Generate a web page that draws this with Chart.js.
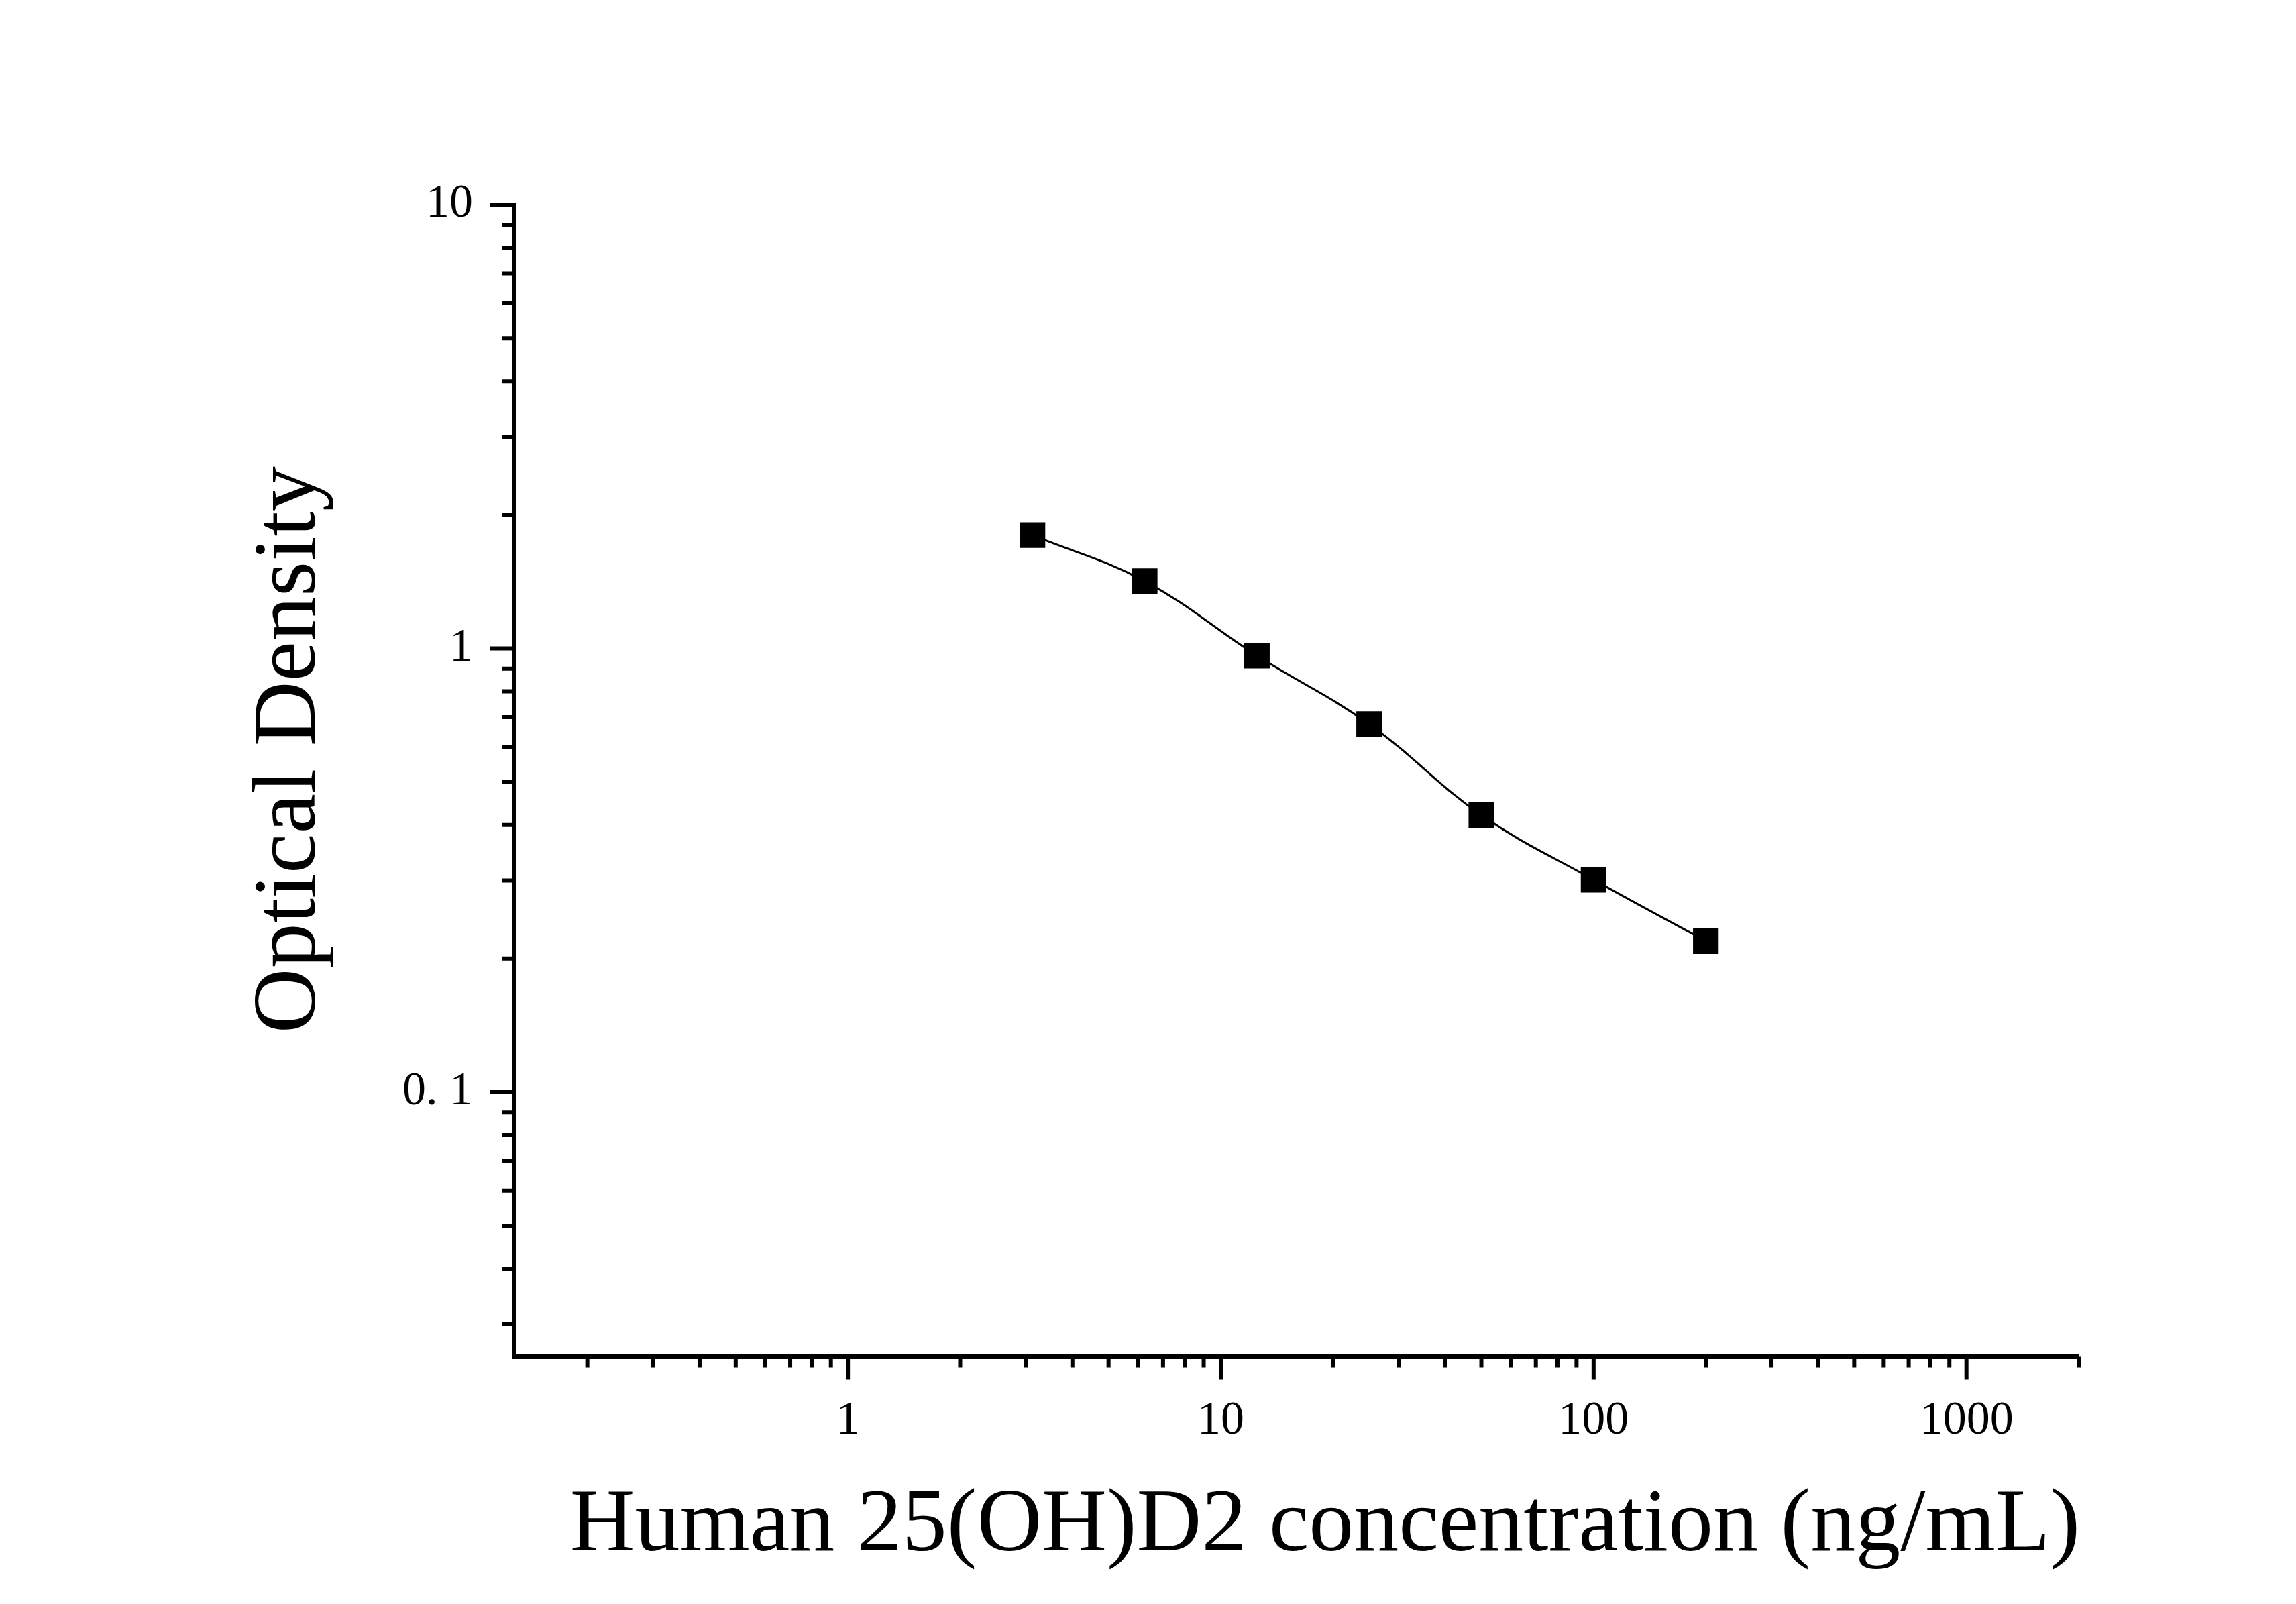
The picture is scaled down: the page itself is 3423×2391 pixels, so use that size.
<!DOCTYPE html>
<html>
<head>
<meta charset="utf-8">
<script src="https://cdn.jsdelivr.net/npm/chart.js@4"></script>
<style>
  html, body { margin: 0; padding: 0; background: #fff; }
  #wrap { width: 3423px; height: 2391px; }
</style>
</head>
<body>
<div id="wrap"><canvas id="curveChart"></canvas></div>
<script>
// standard curve data
const concentrations = [3.125, 6.25, 12.5, 25, 50, 100, 200];
const odValues = [1.80, 1.417, 0.963, 0.675, 0.421, 0.301, 0.219];

// axis ticks
const xTickValues = [1, 10, 100, 1000];
const xTickLabels = ['1', '10', '100', '1000'];
const xMinorTicks = [0.2, 0.3, 0.4, 0.5, 0.6, 0.7, 0.8, 0.9,
                     2, 3, 4, 5, 6, 7, 8, 9,
                     20, 30, 40, 50, 60, 70, 80, 90,
                     200, 300, 400, 500, 600, 700, 800, 900, 2000];
const yTickValues = [0.1, 1, 10];
const yTickLabels = ['0. 1', '1', '10'];
const yMinorTicks = [0.03, 0.04, 0.05, 0.06, 0.07, 0.08, 0.09,
                     0.2, 0.3, 0.4, 0.5, 0.6, 0.7, 0.8, 0.9,
                     2, 3, 4, 5, 6, 7, 8, 9];

const xTitle = 'Human 25(OH)D2 concentration (ng/mL)';
const yTitle = 'Optical Density';

const serif = "'Liberation Serif', 'DejaVu Serif', serif";

// tick marks: long for majors, short for minors, all outside the axes
const tickMarks = {
    id: 'tickMarks',
    afterDraw(chart) {
        const ctx = chart.ctx;
        const xs = chart.scales.x;
        const ys = chart.scales.y;
        const axisY = chart.chartArea.bottom;
        const axisX = chart.chartArea.left;
        ctx.save();
        ctx.strokeStyle = '#000';
        ctx.lineWidth = 6;
        ctx.beginPath();
        xMinorTicks.forEach(v => {
            const px = xs.getPixelForValue(v);
            ctx.moveTo(px, axisY);
            ctx.lineTo(px, axisY + 16);
        });
        xTickValues.forEach(v => {
            const px = xs.getPixelForValue(v);
            ctx.moveTo(px, axisY);
            ctx.lineTo(px, axisY + 34);
        });
        yMinorTicks.forEach(v => {
            const py = ys.getPixelForValue(v);
            ctx.moveTo(axisX, py);
            ctx.lineTo(axisX - 17, py);
        });
        yTickValues.forEach(v => {
            const py = ys.getPixelForValue(v);
            ctx.moveTo(axisX, py);
            ctx.lineTo(axisX - 35, py);
        });
        ctx.stroke();
        ctx.restore();
    }
};

// axis titles, placed a little off-centre like the original plot
const axisTitles = {
    id: 'axisTitles',
    afterDraw(chart) {
        const ctx = chart.ctx;
        const area = chart.chartArea;
        ctx.save();
        ctx.fillStyle = '#000';
        ctx.font = '134px ' + serif;
        ctx.textAlign = 'center';
        ctx.textBaseline = 'alphabetic';
        ctx.fillText(xTitle, (area.left + area.right) / 2 + 43, area.bottom + 288);
        ctx.translate(area.left - 297, (area.top + area.bottom) / 2 - 46);
        ctx.rotate(-Math.PI / 2);
        ctx.fillText(yTitle, 0, 0);
        ctx.restore();
    }
};

const points = concentrations.map((c, i) => ({ x: c, y: odValues[i] }));

new Chart(document.getElementById('curveChart'), {
    type: 'scatter',
    data: {
        datasets: [{
            data: points,
            showLine: true,
            tension: 0.4,
            borderColor: '#000',
            borderWidth: 3,
            pointStyle: 'rect',
            pointRadius: 27,
            pointHoverRadius: 27,
            pointBackgroundColor: '#000',
            pointBorderWidth: 0
        }]
    },
    options: {
        responsive: true,
        maintainAspectRatio: false,
        animation: false,
        devicePixelRatio: 1,
        layout: { padding: { left: 341, right: 324, top: 305, bottom: 29 } },
        plugins: {
            legend: { display: false },
            tooltip: { enabled: false }
        },
        scales: {
            x: {
                type: 'logarithmic',
                position: 'bottom',
                min: 0.127,
                max: 2000,
                afterBuildTicks: scale => {
                    scale.ticks = xTickValues.map(v => ({ value: v }));
                },
                afterFit: scale => { scale.height = 339.5; },
                grid: { display: false, drawTicks: false },
                border: { display: true, color: '#000', width: 7 },
                ticks: {
                    padding: 54,
                    maxRotation: 0,
                    autoSkip: false,
                    color: '#000',
                    font: { family: serif, size: 70 },
                    callback: value => {
                        const i = xTickValues.indexOf(value);
                        return i >= 0 ? xTickLabels[i] : '';
                    }
                },
                title: { display: false }
            },
            y: {
                type: 'logarithmic',
                position: 'left',
                min: 0.02533,
                max: 10,
                afterBuildTicks: scale => {
                    scale.ticks = yTickValues.map(v => ({ value: v }));
                },
                afterFit: scale => { scale.width = 425; },
                grid: { display: false, drawTicks: false },
                border: { display: true, color: '#000', width: 7 },
                ticks: {
                    padding: 61,
                    autoSkip: false,
                    color: '#000',
                    font: { family: serif, size: 70 },
                    callback: value => {
                        const i = yTickValues.indexOf(value);
                        return i >= 0 ? yTickLabels[i] : '';
                    }
                },
                title: { display: false }
            }
        }
    },
    plugins: [tickMarks, axisTitles]
});
</script>
</body>
</html>
